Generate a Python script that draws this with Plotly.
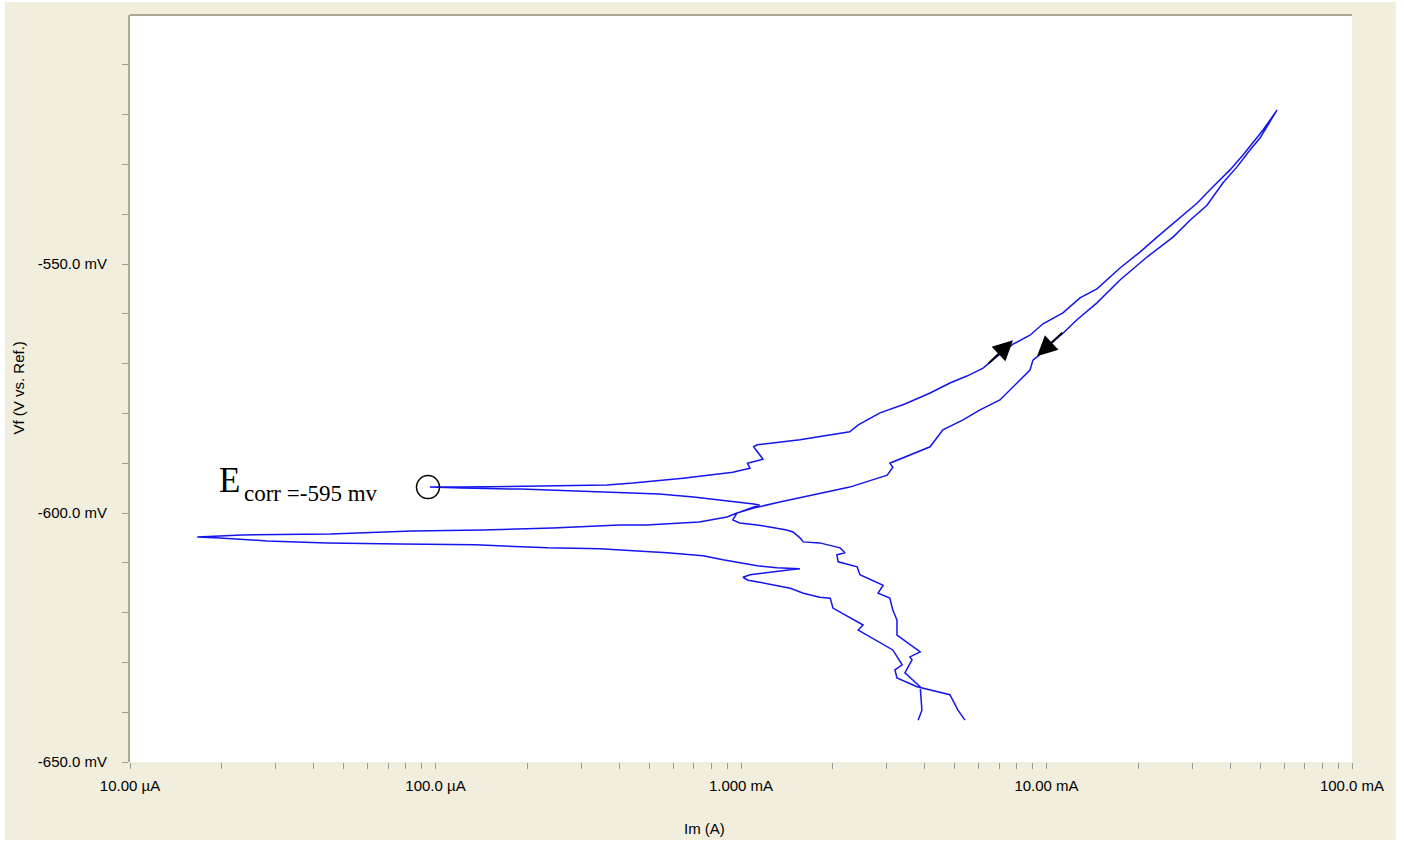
import numpy as np
import plotly.graph_objects as go

# ---------------- data (current in mA, potential in mV) ----------------
fwd_I_mA = [3.80, 3.91, 3.86, 3.44, 3.63, 3.57, 3.86, 3.24, 3.24, 3.14,
            3.07, 2.81, 2.92, 2.45, 2.40, 2.08, 2.06, 2.19, 2.11, 1.81,
            1.60, 1.56, 1.48, 1.41, 1.24, 1.13, 0.99, 0.94, 0.97, 1.07,
            1.15, 1.10, 0.90, 0.70, 0.54, 0.44, 0.30, 0.19, 0.122, 0.0959,
            0.122, 0.364, 0.443, 0.646, 0.94, 1.07, 1.05, 1.18, 1.10, 1.13,
            1.56, 2.27, 2.42, 2.85, 3.44, 4.16, 4.83, 5.49, 6.20, 6.78,
            7.77, 8.83, 9.74, 11.32, 12.87, 14.63, 17.40, 20.23, 23.00, 26.74,
            31.09, 35.08, 39.87, 43.98, 47.42, 51.14, 56.82]
fwd_E_mV = [-641.6, -639.6, -634.9, -632.1, -629.5, -628.9, -627.9, -624.5, -621.5, -619.5,
            -617.1, -616.1, -614.5, -612.4, -610.8, -609.8, -608.4, -608.0, -607.0, -606.0,
            -605.8, -605.0, -603.8, -603.4, -602.8, -602.4, -602.0, -601.4, -600.0, -599.0,
            -598.4, -598.2, -597.6, -596.8, -596.2, -596.0, -595.6, -595.2, -595.0, -594.8,
            -594.8, -594.4, -594.0, -593.0, -591.8, -591.0, -590.0, -589.2, -586.7, -586.3,
            -585.3, -583.7, -582.3, -579.9, -578.1, -575.9, -573.9, -572.5, -570.9, -568.9,
            -566.1, -564.3, -562.0, -559.8, -556.8, -555.0, -550.8, -547.6, -544.6, -541.2,
            -537.8, -534.5, -531.1, -528.1, -525.7, -523.1, -519.1]

rev_I_mA = [56.82, 53.91, 52.71, 49.99, 46.36, 42.04, 37.83, 33.53, 29.49, 25.95,
            21.33, 17.40, 14.63, 12.58, 11.32, 10.11, 9.38, 9.03, 8.83, 8.01,
            7.04, 6.06, 5.33, 4.58, 4.16, 3.07, 3.14, 3.01, 2.27, 1.34,
            1.18, 1.10, 0.97, 0.90, 0.73, 0.49, 0.40, 0.242, 0.143, 0.0838,
            0.0452, 0.0233, 0.0166,
            0.0197, 0.0281, 0.0441, 0.0765, 0.135, 0.233, 0.3455, 0.573, 0.751, 0.873,
            0.99, 1.13, 1.31, 1.56, 1.45, 1.273, 1.07, 1.015, 1.054, 1.15,
            1.31, 1.45, 1.60, 1.81, 1.96, 2.00, 2.51, 2.42, 3.14, 3.37,
            3.19, 3.24, 3.77, 4.83, 5.13, 5.41]
rev_E_mV = [-519.1, -521.5, -522.5, -524.7, -527.1, -530.5, -533.7, -538.2, -541.2, -544.6,
            -548.6, -553.2, -557.8, -561.2, -563.9, -566.5, -568.5, -569.3, -571.3, -573.9,
            -577.3, -579.3, -581.3, -583.3, -586.7, -590.0, -590.8, -592.4, -594.8, -597.8,
            -598.6, -599.0, -600.0, -600.8, -601.8, -602.4, -602.4, -603.0, -603.4, -603.6,
            -604.2, -604.4, -604.8,
            -605.0, -605.6, -606.0, -606.2, -606.4, -607.0, -607.2, -608.0, -608.6, -609.4,
            -610.0, -610.6, -611.0, -611.2, -611.4, -611.8, -612.4, -612.9, -613.5, -613.9,
            -614.5, -615.1, -616.1, -616.9, -617.1, -619.1, -622.5, -623.5, -627.5, -630.5,
            -631.5, -633.1, -634.9, -636.5, -639.6, -641.6]

ecorr_I_mA = [0.0945]
ecorr_E_mV = [-594.8]
ecorr_label = "corr =-595 mv"

# arrows: (tail current mA, tail potential mV, head current mA, head potential mV)
arrow_up = [6.40, -570.2, 7.77, -565.3]
arrow_down = [11.4, -563.5, 9.31, -568.5]

x_major = [1e-5, 1e-4, 1e-3, 1e-2, 1e-1]
x_major_text = ["10.00 µA", "100.0 µA", "1.000 mA", "10.00 mA", "100.0 mA"]
y_ticks = list(range(-650, -500, 10))

# ---------------- figure ----------------
BG = "#F1EEDD"
AXC = "#ABA898"
BLUE = "#1414EE"

I_all = np.array(fwd_I_mA + rev_I_mA) * 1e-3
E_all = np.array(fwd_E_mV + rev_E_mV)

fig = go.Figure()
fig.add_trace(go.Scatter(x=I_all, y=E_all, mode="lines",
                         line=dict(color=BLUE, width=1.5), hoverinfo="skip",
                         showlegend=False))
fig.add_trace(go.Scatter(x=np.array(ecorr_I_mA) * 1e-3, y=ecorr_E_mV, mode="markers",
                         marker=dict(symbol="circle-open", size=23, color="black",
                                     line=dict(width=1.5, color="black")),
                         showlegend=False, hoverinfo="skip"))

# x ticks: every 1..9 multiple per decade
xt_vals = []
for d in range(-5, -1):
    for k in range(1, 10):
        xt_vals.append(k * 10.0 ** d)
xt_vals.append(x_major[-1])
xt_text = []
for v in xt_vals:
    lab = ""
    for mv, mt in zip(x_major, x_major_text):
        if abs(np.log10(v) - np.log10(mv)) < 1e-9:
            lab = mt
    xt_text.append(lab)

yt_text = [f"{v:.1f} mV" if v % 50 == 0 else "" for v in y_ticks]

font_axis = dict(family="Liberation Sans, Arial, sans-serif", size=15, color="black")

fig.update_xaxes(type="log", range=[-5, -1], showgrid=False, zeroline=False,
                 tickmode="array", tickvals=xt_vals, ticktext=xt_text,
                 ticks="outside", ticklen=6, tickcolor="#9A9A9A", tickwidth=1,
                 showline=False, tickfont=font_axis, ticklabelstandoff=4)
fig.update_yaxes(range=[-650, -500], showgrid=False, zeroline=False,
                 tickmode="array", tickvals=y_ticks, ticktext=yt_text,
                 ticks="outside", ticklen=6, tickcolor="#9A9A9A", tickwidth=1,
                 showline=True, linecolor=AXC, linewidth=2,
                 tickfont=font_axis, ticklabelstandoff=12)

annotations = []
for a in (arrow_up, arrow_down):
    annotations.append(dict(x=np.log10(a[2] * 1e-3), y=a[3],
                            ax=np.log10(a[0] * 1e-3), ay=a[1],
                            xref="x", yref="y", axref="x", ayref="y",
                            text="", showarrow=True, arrowhead=2, arrowsize=2,
                            arrowwidth=2, arrowcolor="black", standoff=0))
# Ecorr label
annotations.append(dict(x=np.log10(0.0192e-3), y=-593.5, xref="x", yref="y",
                        text="E", showarrow=False, xanchor="left", yanchor="middle",
                        font=dict(family="Liberation Serif, Times New Roman, serif",
                                  size=35, color="black")))
annotations.append(dict(x=np.log10(0.0232e-3), y=-596.0, xref="x", yref="y",
                        text=ecorr_label, showarrow=False, xanchor="left", yanchor="middle",
                        font=dict(family="Liberation Serif, Times New Roman, serif",
                                  size=23, color="black")))
# axis titles
annotations.append(dict(x=(704 - 130) / 1222, y=(762 - 828) / 747, xref="paper", yref="paper",
                        text="Im (A)", showarrow=False, xanchor="center", yanchor="middle",
                        font=font_axis))
annotations.append(dict(x=(18 - 130) / 1222, y=0.5, xref="paper", yref="paper",
                        text="Vf (V vs. Ref.)", showarrow=False, textangle=-90,
                        xanchor="center", yanchor="middle", font=font_axis))

shapes = [
    dict(type="line", xref="paper", yref="paper", x0=0, x1=1, y0=1, y1=1,
         line=dict(color=AXC, width=2)),
]
# thin white screenshot edges
for (x0, x1, y0, y1) in [(0, 5, 0, 842), (1396, 1404, 0, 842), (0, 1404, 0, 2), (0, 1404, 840, 842)]:
    shapes.append(dict(type="rect", xref="paper", yref="paper",
                       x0=(x0 - 130) / 1222, x1=(x1 - 130) / 1222,
                       y0=(762 - y1) / 747, y1=(762 - y0) / 747,
                       fillcolor="white", line=dict(width=0), layer="below"))

fig.update_layout(width=1404, height=842, autosize=False,
                  margin=dict(l=130, r=52, t=15, b=80),
                  paper_bgcolor=BG, plot_bgcolor="white",
                  annotations=annotations, shapes=shapes, showlegend=False)

fig.write_html("out.html", config={"displayModeBar": False},
               post_script="document.body.style.margin='0px';document.body.style.overflow='hidden';")
